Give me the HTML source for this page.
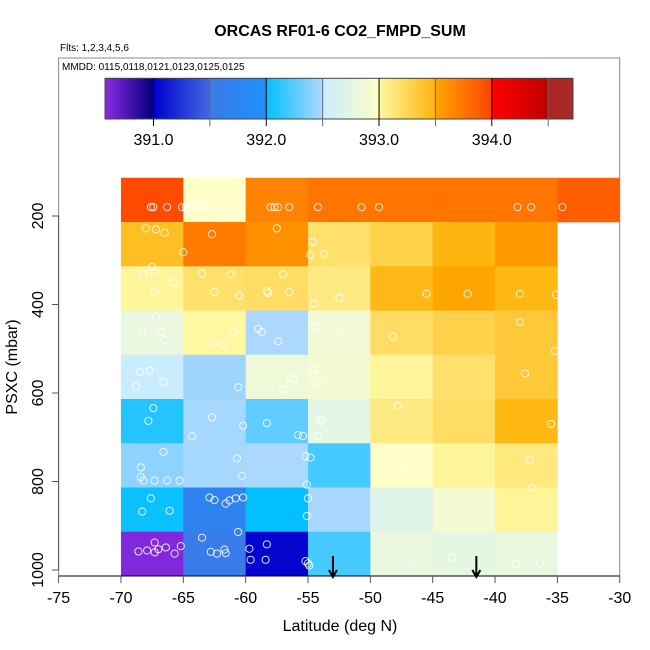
<!DOCTYPE html>
<html><head><meta charset="utf-8"><style>
body{margin:0;background:#fff;}
svg{display:block;font-family:"Liberation Sans",Arial,sans-serif;}
</style></head><body>
<svg id="chart" width="650" height="650" viewBox="0 0 650 650">
<text x="340" y="36" text-anchor="middle" font-size="16" font-weight="bold">ORCAS RF01-6 CO2_FMPD_SUM</text>
<text x="60" y="51" font-size="10">Flts: 1,2,3,4,5,6</text>
<text x="62" y="70" font-size="10">MMDD: 0115,0118,0121,0123,0125,0125</text>
<g id="cells"></g>
<g id="points"></g>
<g id="cbar"></g>
<rect x="58.6" y="58" width="561.1" height="518" fill="none" stroke="#888" stroke-width="1"/>
<g id="axes"></g>
<text x="340" y="631" text-anchor="middle" font-size="16">Latitude (deg N)</text>
<text transform="translate(17,367) rotate(-90)" text-anchor="middle" font-size="16">PSXC (mbar)</text>
</svg>
<script>
const latEdges=[-70,-65,-60,-55,-50,-45,-40,-35,-30];
const presTop=[113.6,213.6,313.6,413.6,513.6,613.6,713.6,813.6,913.6];
const cellValues=[
[393.97,392.99,393.68,393.75,393.75,393.75,393.75,393.87],
[393.42,393.72,393.61,393.18,393.29,393.49,393.56],
[393.02,393.18,393.2,393.1,393.47,393.5,393.48],
[392.8,393.0,392.49,392.88,393.2,393.29,393.35],
[392.51,392.45,392.85,392.9,393.02,393.18,393.35],
[392.1,392.47,392.27,392.75,393.1,393.2,393.48],
[392.4,392.47,392.49,392.2,392.99,393.02,393.11],
[392.03,391.7,392.01,392.48,392.7,392.9,393.03],
[390.6,391.52,391.02,392.2,392.8,392.76,392.8]];
const ptLat=[-67.6,-67.4,-66.3,-65.1,-64.8,-64.4,-63.8,-63.3,-61.9,-60.6,-58.0,-57.7,-57.4,-56.5,-54.2,-50.7,-49.3,-38.2,-37.1,-34.6,
-68,-67.2,-66.5,-65,-62.7,-57.5,-54.8,-54.6,-53.7,
-67.5,-67.3,-68.2,-65.8,-67.3,-63.5,-61.2,-62.5,-60.5,-58.3,-58.2,-56.5,-57,-54.5,-52.5,-45.5,-42.2,-38,-35.1,
-67.2,-68.3,-66.8,-66.5,-61,-62.5,-61.8,-59,-58.7,-57.4,-54.4,-54.2,-52.5,-48.2,-38,-35.2,
-68.5,-67.7,-66.6,-68.8,-60.6,-57,-56.2,-56.4,-54.5,-54.6,-54.3,-37.6,
-67.4,-67.8,-62.7,-60.2,-58.3,-53.9,-54.0,-55.8,-54.2,-47.8,-35.5,
-66.6,-68.4,-68.4,-68.2,-67.3,-66.3,-65.3,-64.3,-60.7,-55.2,-54.8,-60.3,-55.4,-47.5,-37.2,
-67.6,-68.3,-66.1,-62.9,-62.5,-61.6,-61.3,-60.8,-60.2,-55.1,-55,-55.1,-37.0,
-67.3,-68.6,-67.9,-67.3,-67.0,-66.4,-65.7,-65.2,-63.5,-62.8,-62.3,-61.7,-61.6,-60.6,-59.7,-59.6,-58.3,-58.4,-55.2,-55,-54.9,-46.6,-43.5,-38.3,-36.4];
const ptPres=[180,180,180,180,180,180,180,180,180,180,180,180,180,180,180,180,180,180,180,180,
228,230,238,282,241,228,288,258,286,
315,327,332,350,370,330,332,372,380,370,374,372,332,398,385,376,376,376,378,
428,460,462,480,462,485,492,455,462,483,448,452,465,472,440,505,
552,550,575,585,587,592,570,567,548,558,578,556,
634,663,655,674,668,660,664,695,697,630,670,
733,768,790,798,798,798,798,698,748,743,746,787,697,765,752,
838,868,866,836,842,850,843,838,836,807,838,878,815,
938,958,956,960,953,949,963,946,927,959,963,954,962,914,952,977,942,977,980,985,990,985,971,987,985];
const arrowLats=[-53,-41.5];
const xTicks=[-75,-70,-65,-60,-55,-50,-45,-40,-35,-30];
const yTicks=[200,400,600,800,1000];
const cbTicks=[391.0,392.0,393.0,394.0];
const cbStops=[[390.57,'#8a2be2'],[391.0,'#000080'],[391.0,'#0000cd'],[391.5,'#4169e1'],[391.5,'#3a7ae8'],[392.0,'#1e90ff'],[392.0,'#00bfff'],[392.5,'#b0d8ff'],[392.5,'#c8ecff'],[393.0,'#ffffc8'],[393.0,'#fff8a0'],[393.5,'#ffb40c'],[393.5,'#ffa500'],[394.0,'#ff4500'],[394.0,'#ff0000'],[394.5,'#c00000'],[394.5,'#b22222'],[394.72,'#a52a2a']];
const NS='http://www.w3.org/2000/svg';
const X=v=>58.6+(v+75)*12.47;
const Y=p=>216+(p-200)*0.4425;
const CB=v=>105+(v-390.57)*(573-105)/(394.72-390.57);
function hex(c){return [1,3,5].map(i=>parseInt(c.substr(i,2),16));}
function col(v){
  if(v<=cbStops[0][0])return cbStops[0][1];
  for(let i=0;i<cbStops.length-1;i++){const a=cbStops[i],b=cbStops[i+1];
    if(v>=a[0]&&v<b[0]&&b[0]>a[0]){const t=(v-a[0])/(b[0]-a[0]);const A=hex(a[1]),B=hex(b[1]);
      return 'rgb('+A.map((x,k)=>Math.round(x+(B[k]-x)*t)).join(',')+')';}}
  return cbStops[cbStops.length-1][1];}
function mk(tag,attrs,parent){const e=document.createElementNS(NS,tag);for(const k in attrs)e.setAttribute(k,attrs[k]);parent.appendChild(e);return e;}
const cells=document.getElementById('cells');
cellValues.forEach((row,r)=>row.forEach((v,c)=>{
  const x0=X(latEdges[c]),x1=X(latEdges[c+1]),y0=Y(presTop[r]),y1=Y(presTop[r]+100);
  const e=mk('rect',{x:x0,y:y0,width:x1-x0+0.3,height:y1-y0+0.3,fill:col(v)},cells);
  
  
}));
const pts=document.getElementById('points');
ptLat.forEach((la,i)=>{
  const e=mk('circle',{cx:X(la),cy:Y(ptPres[i]),r:3.6,fill:'none',stroke:'#fff','stroke-opacity':0.85,'stroke-width':1},pts);
  
  
});
const axes=document.getElementById('axes');
arrowLats.forEach(la=>{
  const g=mk('g',{},axes);
  
  
  mk('line',{x1:X(la),x2:X(la),y1:556,y2:577,stroke:'#000','stroke-width':2},g);
  mk('path',{d:`M${X(la)-4},570 L${X(la)},577 L${X(la)+4},570`,fill:'none',stroke:'#000','stroke-width':2},g);
});
mk('line',{x1:X(-75),x2:X(-30),y1:576,y2:576,stroke:'#000'},axes);
xTicks.forEach(t=>{
  mk('line',{x1:X(t),x2:X(t),y1:576,y2:583,stroke:'#555'},axes);
  const e=mk('text',{x:X(t),y:603,'text-anchor':'middle','font-size':16},axes);e.textContent=t;
  
  
});
mk('line',{x1:58.6,x2:58.6,y1:Y(200),y2:Y(1000),stroke:'#555'},axes);
yTicks.forEach(t=>{
  mk('line',{x1:52,x2:58.6,y1:Y(t),y2:Y(t),stroke:'#555'},axes);
  const e=mk('text',{transform:`translate(43,${Y(t)}) rotate(-90)`,'text-anchor':'middle','font-size':16},axes);e.textContent=t;
  
  
});
const cb=document.getElementById('cbar');
const defs=mk('defs',{},cb);
const lg=mk('linearGradient',{id:'cbg',x1:0,x2:1,y1:0,y2:0},defs);
cbStops.forEach(s=>mk('stop',{offset:((s[0]-390.57)/(394.72-390.57)),'stop-color':s[1]},lg));
mk('rect',{x:105,y:78.3,width:468,height:40.7,fill:'url(#cbg)',stroke:'#444'},cb);
for(let v=391.0;v<=394.5;v+=0.5){
  const major=Math.abs(v-Math.round(v))<0.01;
  mk('line',{x1:CB(v),x2:CB(v),y1:78.3,y2:126,stroke:major?'#000':'#666','stroke-width':1},cb);
}
cbTicks.forEach(t=>{
  const e=mk('text',{x:CB(t),y:145,'text-anchor':'middle','font-size':16},cb);e.textContent=t.toFixed(1);
  
  
});
</script>
</body></html>
